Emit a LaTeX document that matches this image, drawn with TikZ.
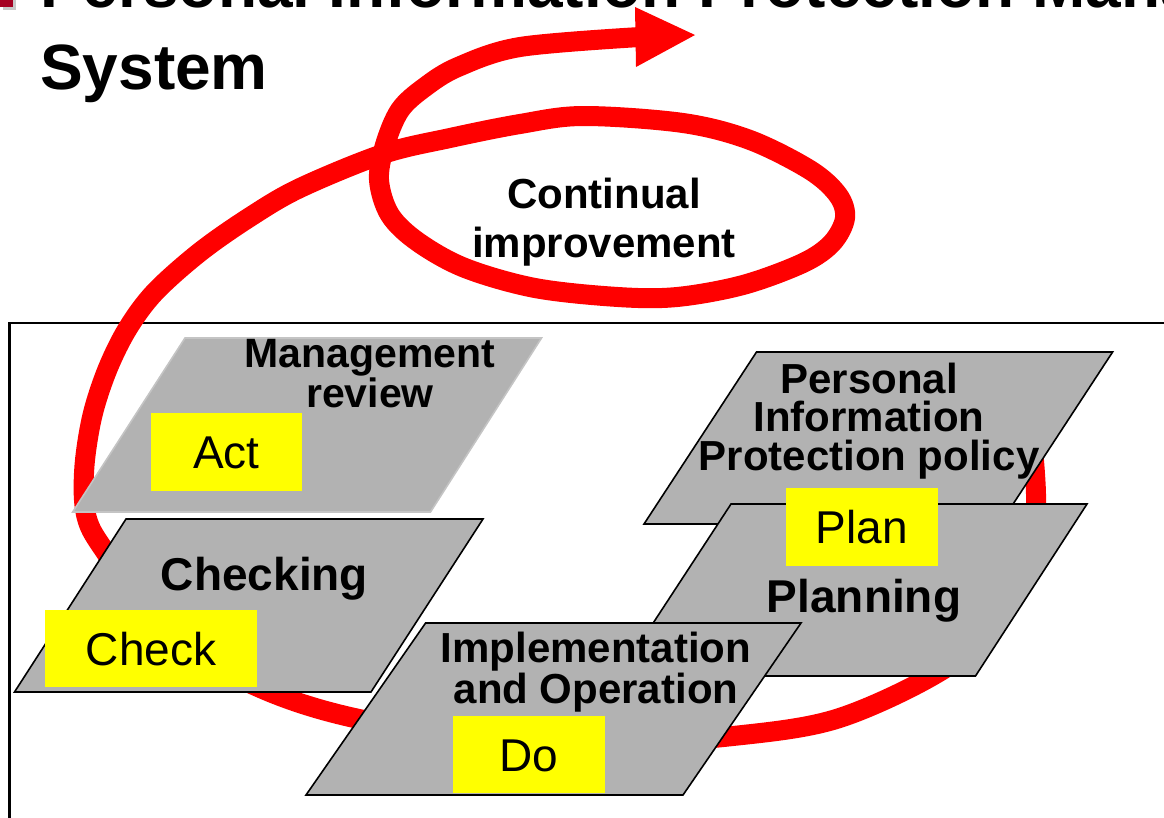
\documentclass[tikz,border=0pt]{standalone}
\usepackage{fontspec}
\setmainfont{Liberation Sans}
\definecolor{pgray}{HTML}{B2B2B2}
\definecolor{mrborder}{HTML}{C4C4C4}
\definecolor{pyellow}{HTML}{FFFF00}
\definecolor{pred}{HTML}{FF0000}
\definecolor{bulletred}{HTML}{A50021}
\definecolor{bulletshadow}{HTML}{C8C8C8}
\tikzset{
  para/.style={fill=pgray, draw=black, line width=1.6pt, line join=miter},
  parasoft/.style={fill=pgray, draw=mrborder, line width=1.6pt, line join=miter},
  tag/.style={fill=pyellow, inner sep=0pt, text height=33pt, text depth=0pt,
    font=\fontsize{46}{50}\selectfont},
  lbl/.style={font=\fontsize{42}{38}\selectfont\bfseries, align=center, inner sep=0pt, anchor=base},
  biglbl/.style={font=\fontsize{46}{50}\selectfont\bfseries, inner sep=0pt, anchor=base},
  loopline/.style={draw=pred, line width=20pt, line join=round},
}
\begin{document}
\begin{tikzpicture}[x=1pt,y=-1pt]
\useasboundingbox (0,0) rectangle (1164,817);
\clip (0,0) rectangle (1164,817);

% title
\fill[bulletshadow] (3,-3) rectangle (16,10);
\fill[bulletred] (0,-6) rectangle (13,7);
\node[font=\fontsize{64}{82}\selectfont\bfseries, align=left, inner sep=0pt, anchor=base west]
  (title) at (40,89) {Personal Information Protection Management\\System};

% frame
\draw[line width=2.5pt] (9.5,1000) -- (9.5,323) -- (1300,323);

% red spiral
\draw[loopline] plot[smooth, tension=0.55] coordinates {
 (1030,420) (1036,503) (1025,575) (985,637) (925,680) (833,720) (733,736)
 (600,745) (470,737) (350,717) (265,690) (180,645) (135,597) (108,556)
 (90,527) (84,500) (85,460) (93,413) (108,368) (128,328) (155,292)
 (200,252) (250,217) (300,188) (383,154) (450,138) (520,124)
 (583,116) (683,123) (750,140) (810,170) (838,195) (845,218) (832,243)
 (803,263) (743,285) (677,297) (618,297) (535,288) (465,268) (418,242)
 (390,215) (379,180) (385,145)
 (400,110) (425,87) (458,67) (520,47) (640,37)};
\fill[pred] (635,7) -- (695,35) -- (636,67) -- cycle;
\node[lbl, font=\fontsize{42}{49}\selectfont\bfseries] (ci) at (604,257) {Continual\\improvement};

% Act
\fill[parasoft] (185,338) -- (541.5,338) -- (430.5,512) -- (72.7,512) -- cycle;
\node[lbl, font=\fontsize{41}{34}\selectfont\bfseries] (mr) at (370,407) {Management\\review};
\node[tag, minimum width=151pt, minimum height=78pt] (act) at (226.5,452) {Act};

% Check
\filldraw[para] (126,519) -- (483,519) -- (371,692) -- (14.5,692) -- cycle;
\node[biglbl] (checking) at (264.5,590) {Checking};
\node[tag, minimum width=212pt, minimum height=77pt] (check) at (151,648.5) {Check};

% Plan
\filldraw[para] (756.5,352) -- (1112.6,352) -- (1000,524) -- (644,524) -- cycle;
\node[lbl, font=\fontsize{42}{38.5}\selectfont\bfseries] (policy) at (869,470) {Personal\\Information\\Protection policy};
\filldraw[para] (731,504) -- (1087,504) -- (975.5,676) -- (618.5,676) -- cycle;
\node[biglbl] (planning) at (864,612) {Planning};
\node[tag, minimum width=152pt, minimum height=78pt] (plan) at (862,527) {Plan\hspace{17pt}};

% Do
\filldraw[para] (425.6,623) -- (801,623) -- (683,795) -- (306,795) -- cycle;
\node[lbl] (impl) at (596,703) {Implementation\\and Operation};
\node[tag, minimum width=152pt, minimum height=77pt] (do) at (529,754.5) {Do};
\end{tikzpicture}
\end{document}
